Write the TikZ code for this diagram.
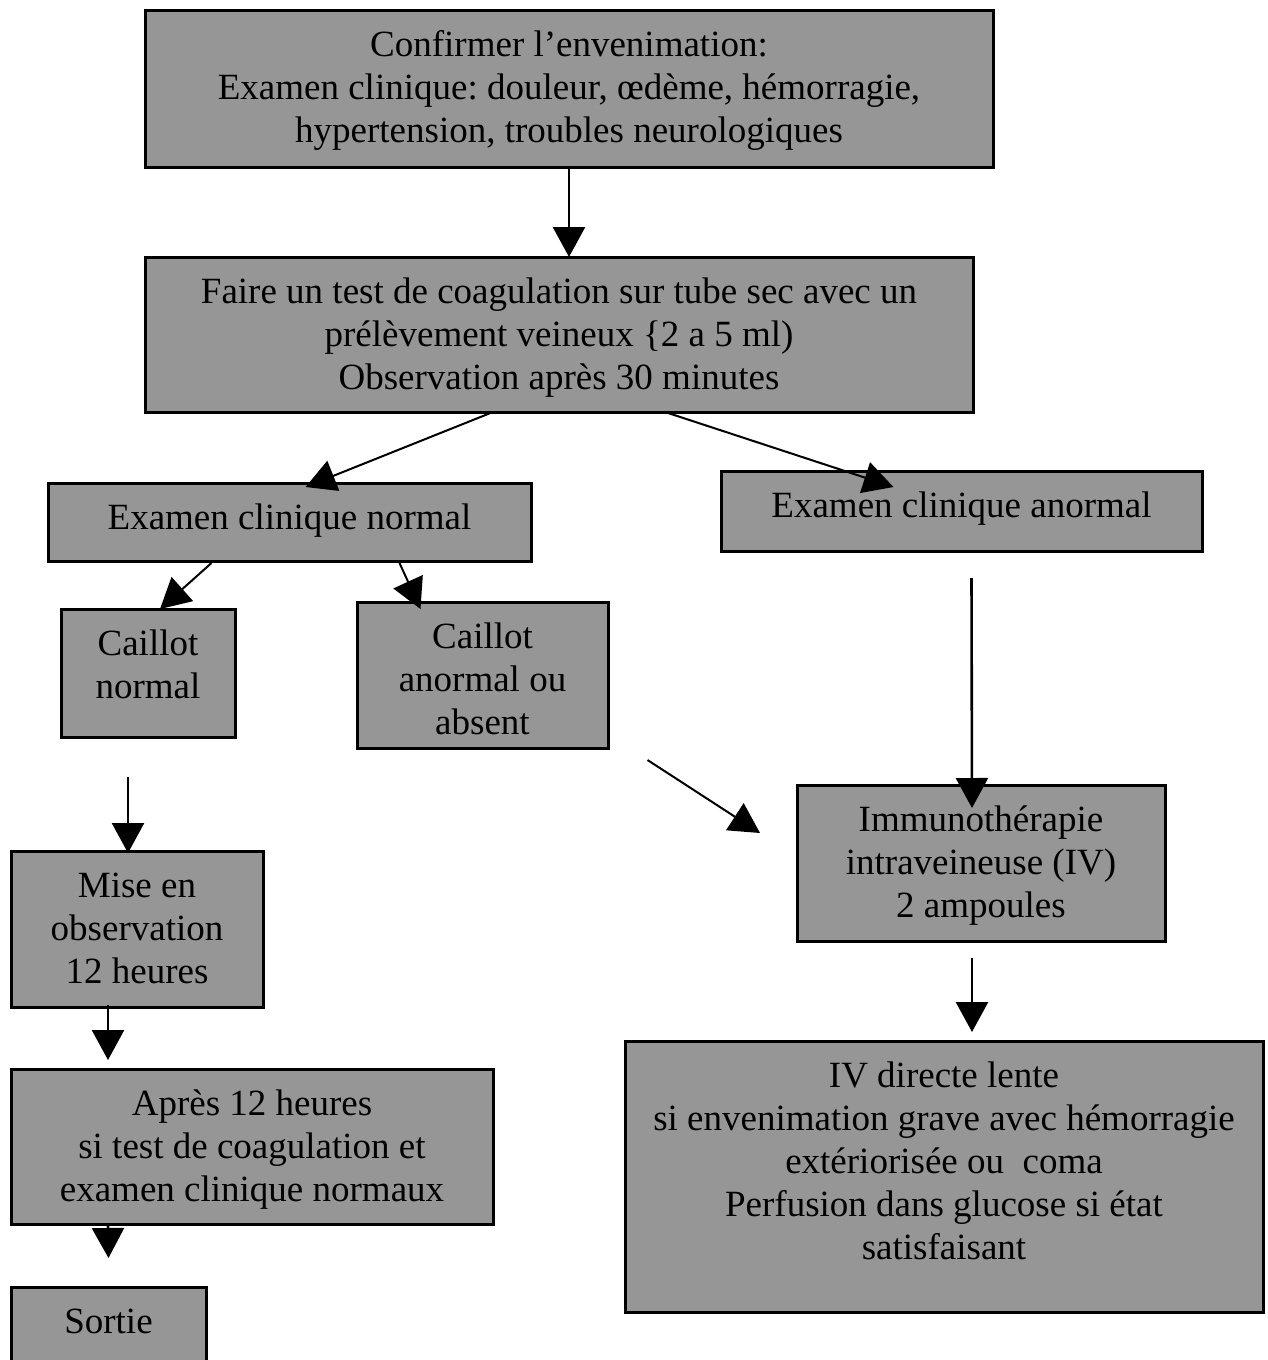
\documentclass[tikz,border=0pt]{standalone}
\usepackage{fontspec}
\setmainfont{Liberation Serif}
\usetikzlibrary{arrows.meta}
\definecolor{boxgray}{RGB}{150,150,150}
\frenchspacing
\tikzset{
  box/.style={draw=black, fill=boxgray, line width=3pt, rectangle, anchor=north west, inner sep=0pt, outer sep=0pt},
  txt/.style={anchor=north, align=center, inner sep=0pt, font=\fontsize{37}{43}\selectfont},
  arr/.style={line width=2pt, -{Triangle[length=30pt,width=32pt]}},
  varr/.style={line width=2.6pt, -{Triangle[length=30pt,width=32pt]}}
}
\begin{document}
\begin{tikzpicture}[x=1pt,y=-1pt]
\useasboundingbox (0,0) rectangle (1267,1360);
\clip (0,0) rectangle (1267,1360);
% boxes
\node[box, minimum width=848pt, minimum height=157pt] (b1) at (145,10) {};
\node[box, minimum width=828pt, minimum height=155pt] (b2) at (145,257) {};
\node[box, minimum width=483pt, minimum height=78pt] (b3) at (48,483) {};
\node[box, minimum width=481pt, minimum height=80pt] (b4) at (721,471) {};
\node[box, minimum width=174pt, minimum height=128pt] (b5) at (61,609) {};
\node[box, minimum width=251pt, minimum height=146pt] (b6) at (357,602) {};
\node[box, minimum width=252pt, minimum height=156pt] (b7) at (11,851) {};
\node[box, minimum width=368pt, minimum height=156pt] (b8) at (797,785) {};
\node[box, minimum width=482pt, minimum height=155pt] (b9) at (11,1069) {};
\node[box, minimum width=638pt, minimum height=271pt] (b10) at (625,1041) {};
\node[box, minimum width=195pt, minimum height=100pt] (b11) at (11,1287) {};
% texts
\node[txt] (t1) at ([yshift=-16pt]b1.north) {\strut Confirmer l’envenimation:\\Examen clinique: douleur, œdème, hémorragie,\\hypertension, troubles neurologiques};
\node[txt] (t2) at ([yshift=-16pt]b2.north) {\strut Faire un test de coagulation sur tube sec avec un\\prélèvement veineux \{2 a 5 ml)\\Observation après 30 minutes};
\node[txt] (t3) at ([yshift=-16pt]b3.north) {\strut Examen clinique normal};
\node[txt] (t4) at ([yshift=-16pt]b4.north) {\strut Examen clinique anormal};
\node[txt] (t5) at ([yshift=-16pt]b5.north) {\strut Caillot\\normal};
\node[txt] (t6) at ([yshift=-16pt]b6.north) {\strut Caillot\\anormal ou\\absent};
\node[txt] (t7) at ([yshift=-16pt]b7.north) {\strut Mise en\\observation\\12 heures};
\node[txt] (t8) at ([yshift=-16pt]b8.north) {\strut Immunothérapie\\intraveineuse (IV)\\2 ampoules};
\node[txt] (t9) at ([yshift=-16pt]b9.north) {\strut Après 12 heures\\si test de coagulation et\\examen clinique normaux};
\node[txt] (t10) at ([yshift=-16pt]b10.north) {\strut IV directe lente\\si envenimation grave avec hémorragie\\extériorisée ou\ \ coma\\Perfusion dans glucose si état\\satisfaisant};
\node[txt] (t11) at ([yshift=-16pt]b11.north) {\strut Sortie};
% connectors
\draw[varr] (b1.south) -- (b1.south |- b2.north);
\draw[arr] ([xshift=-66pt]b2.south) -- ([xshift=16pt,yshift=-4pt]b3.north);
\draw[arr] ([xshift=106pt]b2.south) -- ([xshift=-68pt,yshift=-16pt]b4.north);
\draw[arr] ([xshift=-78pt,yshift=-2pt]b3.south) -- ([xshift=12pt]b5.north);
\draw[arr] ([xshift=110pt,yshift=-2pt]b3.south) -- ([xshift=-62pt,yshift=-7pt]b6.north);
\draw[varr] ([xshift=10pt,yshift=-27pt]b4.south) -- ([xshift=-9pt,yshift=-23pt]b8.north);
\draw[arr] ([xshift=165pt,yshift=-12pt]b6.south) -- ([xshift=-37pt,yshift=-48pt]b8.north west);
\draw[varr] ([xshift=-20pt,yshift=-40pt]b5.south) -- ([xshift=-9pt,yshift=-2pt]b7.north);
\draw[varr] ([xshift=-29pt,yshift=2pt]b7.south) -- ([xshift=-144pt,yshift=9pt]b9.north);
\draw[varr] ([xshift=-144pt]b9.south) -- ([yshift=29pt]b11.north);
\draw[varr] ([xshift=-9pt,yshift=-17pt]b8.south) -- ([xshift=28pt,yshift=9pt]b10.north);
\end{tikzpicture}
\end{document}
